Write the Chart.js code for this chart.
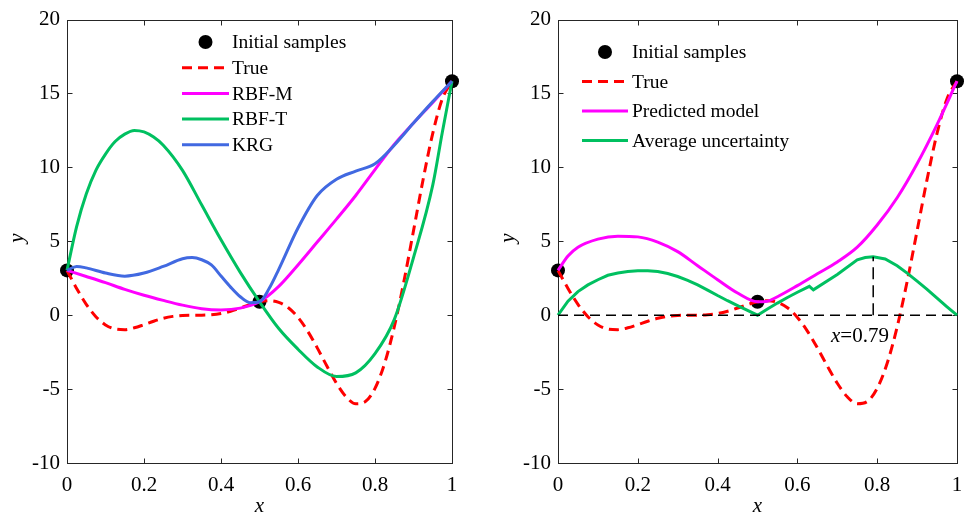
<!DOCTYPE html>
<html><head><meta charset="utf-8">
<script src="https://cdn.jsdelivr.net/npm/chart.js@4/dist/chart.umd.min.js"></script>
<style>
html,body{margin:0;padding:0;background:#fff;}
#wrap{position:relative;width:965px;height:513px;overflow:hidden;background:#fff;}
canvas{position:absolute;top:0;}
</style></head><body>
<div id="wrap">
<canvas id="c1" width="482" height="513" style="left:0"></canvas>
<canvas id="c2" width="483" height="513" style="left:482px"></canvas>
</div>
<script>
// ---------- data ----------
const xTickLabels = ['0','0.2','0.4','0.6','0.8','1'];
const yTickLabels = ['-10','-5','0','5','10','15','20'];

const sampleX = [0, 0.5, 1];
const sampleY = [3.03, 0.91, 15.83];

const trueX = [0,0.025,0.05,0.075,0.1,0.125,0.15,0.175,0.2,0.225,0.25,0.275,0.3,0.325,0.35,0.375,0.4,0.425,0.45,0.475,0.5,0.525,0.55,0.575,0.6,0.625,0.65,0.675,0.7,0.725,0.75,0.775,0.8,0.825,0.85,0.875,0.9,0.925,0.95,0.975,1];
const trueY = [3.027,1.813,0.738,-0.100,-0.657,-0.935,-0.978,-0.854,-0.640,-0.407,-0.210,-0.079,-0.016,0.000,0.002,0.030,0.115,0.270,0.483,0.717,0.909,0.986,0.871,0.503,-0.149,-1.074,-2.209,-3.439,-4.606,-5.522,-5.993,-5.845,-4.949,-3.253,-0.799,2.272,5.712,9.187,12.303,14.648,15.830];

const rbfmX = [0,0.05,0.1,0.15,0.2,0.25,0.3,0.35,0.4,0.45,0.5,0.55,0.6,0.65,0.7,0.75,0.8,0.85,0.9,0.95,1];
const rbfmY = [3.03,2.62,2.2,1.75,1.35,1.0,0.68,0.44,0.36,0.48,0.91,1.95,3.4,4.95,6.5,8.1,9.85,11.55,13.0,14.4,15.83];

const rbftX = [0,0.025,0.05,0.075,0.1,0.125,0.15,0.175,0.2,0.225,0.25,0.3,0.35,0.4,0.45,0.5,0.55,0.6,0.65,0.7,0.75,0.8,0.85,0.9,0.95,0.975,1];
const rbftY = [3.03,6.0,8.2,9.8,10.9,11.75,12.25,12.5,12.4,12.05,11.5,9.8,7.45,5.1,2.9,0.91,-0.9,-2.3,-3.5,-4.15,-3.9,-2.6,-0.3,3.9,8.8,12.4,15.83];

const krgX = [0,0.025,0.05,0.1,0.15,0.2,0.25,0.3,0.325,0.35,0.375,0.4,0.425,0.45,0.475,0.5,0.525,0.55,0.6,0.65,0.7,0.75,0.8,0.85,0.9,0.95,1];
const krgY = [3.03,3.3,3.2,2.85,2.64,2.85,3.3,3.82,3.9,3.75,3.4,2.65,1.9,1.25,0.85,0.91,1.8,3.1,5.9,8.1,9.2,9.75,10.25,11.5,13.0,14.45,15.83];

const predX = [0,0.025,0.05,0.1,0.15,0.2,0.25,0.3,0.35,0.4,0.45,0.5,0.525,0.55,0.6,0.65,0.7,0.75,0.8,0.85,0.9,0.95,1];
const predY = [3.03,4.0,4.6,5.15,5.35,5.3,4.95,4.3,3.35,2.4,1.5,0.91,0.95,1.25,2.0,2.8,3.6,4.6,6.1,7.95,10.25,12.9,15.83];

const uncX = [0,0.025,0.05,0.075,0.1,0.125,0.15,0.175,0.2,0.225,0.25,0.275,0.3,0.325,0.35,0.375,0.4,0.425,0.45,0.475,0.5,0.525,0.55,0.575,0.6,0.63,0.64,0.7,0.75,0.77,0.79,0.82,0.85,0.875,0.9,0.925,0.95,0.975,1];
const uncY = [0,0.95,1.6,2.05,2.4,2.7,2.85,2.95,3.0,3.0,2.95,2.82,2.62,2.36,2.05,1.7,1.33,0.98,0.65,0.32,0,0.42,0.82,1.2,1.55,1.95,1.72,2.75,3.75,3.9,3.95,3.8,3.35,2.85,2.3,1.75,1.15,0.57,0];

const zeroLineX = [0, 1];
const zeroLineY = [0, 0];
const markX = [0.79, 0.79];
const markY = [0, 3.95];

// ---------- helpers ----------
const FONT = "'Liberation Serif','Times New Roman',serif";
const RED = '#FF0000', MAG = '#FF00FF', GRN = '#00C060', BLU = '#4169E1';
const pts = (xs, ys) => xs.map((x, i) => ({x: x, y: ys[i]}));

function lineDs(label, xs, ys, color, order, extra) {
  return Object.assign({
    label: label, data: pts(xs, ys), borderColor: color, backgroundColor: color,
    borderWidth: 3, pointRadius: 0, fill: false, showLine: true, clip: false,
    cubicInterpolationMode: 'monotone', order: order, inLegend: true
  }, extra || {});
}
function sampleDs(order) {
  return {label: 'Initial samples', data: pts(sampleX, sampleY), showLine: false,
    pointRadius: 7, pointBackgroundColor: '#000', pointBorderColor: '#000', pointBorderWidth: 0,
    borderColor: '#000', backgroundColor: '#000', clip: false, order: order, inLegend: true, isSample: true};
}

function scalesFor(yW) {
  const tickFont = {family: FONT, size: 21};
  return {
    x: {type: 'linear', min: 0, max: 1,
      afterFit: s => { s.height = 50; s.paddingLeft = 0; s.paddingRight = 0; },
      grid: {display: false, drawTicks: false}, border: {display: false},
      ticks: {stepSize: 0.2, padding: 10, color: '#000', font: tickFont, maxRotation: 0, autoSkip: false,
        callback: v => xTickLabels[Math.round(v * 5)]}},
    y: {type: 'linear', min: -10, max: 20,
      afterFit: s => { s.width = yW; },
      grid: {display: false, drawTicks: false}, border: {display: false},
      ticks: {stepSize: 5, padding: 7, color: '#000', font: tickFont, autoSkip: false,
        callback: v => yTickLabels[Math.round((v + 10) / 5)]}}
  };
}

const decoPlugin = {
  id: 'deco',
  beforeDatasetsDraw(chart) {
    const ctx = chart.ctx, a = chart.chartArea;
    const xs = chart.scales.x, ys = chart.scales.y;
    ctx.save();
    ctx.strokeStyle = '#262626'; ctx.lineWidth = 1;
    const L = Math.round(a.left) + 0.5, R = Math.round(a.right) + 0.5, T = Math.round(a.top) + 0.5, B = Math.round(a.bottom) + 0.5;
    ctx.strokeRect(L, T, R - L, B - T);
    ctx.beginPath();
    xs.ticks.forEach(t => {
      const p = Math.round(xs.getPixelForValue(t.value)) + 0.5;
      ctx.moveTo(p, B); ctx.lineTo(p, B - 5);
      ctx.moveTo(p, T); ctx.lineTo(p, T + 5);
    });
    ys.ticks.forEach(t => {
      const p = Math.round(ys.getPixelForValue(t.value)) + 0.5;
      ctx.moveTo(L, p); ctx.lineTo(L + 5, p);
      ctx.moveTo(R, p); ctx.lineTo(R - 5, p);
    });
    ctx.stroke();
    ctx.restore();
  },
  afterDraw(chart, args, opts) {
    const ctx = chart.ctx, a = chart.chartArea;
    ctx.save();
    ctx.fillStyle = '#000';
    // axis titles
    ctx.font = 'italic 21px ' + FONT;
    ctx.textAlign = 'center'; ctx.textBaseline = 'middle';
    ctx.fillText('x', (a.left + a.right) / 2, 506);
    ctx.save();
    ctx.translate(opts.yTitleX, 238);
    ctx.rotate(-Math.PI / 2);
    ctx.fillText('y', 0, 0);
    ctx.restore();
    // legend
    const lg = opts.legend;
    ctx.font = '19.5px ' + FONT;
    ctx.textAlign = 'left'; ctx.textBaseline = 'middle';
    const items = chart.data.datasets.filter(d => d.inLegend);
    items.forEach((d, i) => {
      const y = lg.y + i * lg.dy;
      if (d.isSample) {
        ctx.beginPath(); ctx.fillStyle = '#000';
        ctx.arc((lg.x0 + lg.x1) / 2, y, 7, 0, Math.PI * 2); ctx.fill();
      } else {
        ctx.beginPath(); ctx.strokeStyle = d.borderColor; ctx.lineWidth = 3;
        ctx.setLineDash(d.borderDash || []);
        ctx.moveTo(lg.x0, y); ctx.lineTo(lg.x1, y); ctx.stroke();
        ctx.setLineDash([]);
      }
      ctx.fillStyle = '#000';
      ctx.fillText(d.label, lg.tx, y + 1);
    });
    // annotation
    if (opts.note) {
      const n = opts.note;
      ctx.textBaseline = 'alphabetic';
      ctx.font = 'italic 21px ' + FONT;
      ctx.fillText('x', n.x, n.y);
      const w = ctx.measureText('x').width;
      ctx.font = '21px ' + FONT;
      ctx.fillText('=0.79', n.x + w, n.y);
    }
    ctx.restore();
  }
};

const common = {
  responsive: false, animation: false, devicePixelRatio: 1,
  events: [],
};

new Chart(document.getElementById('c1'), {
  type: 'line',
  data: {datasets: [
    sampleDs(10),
    lineDs('True', trueX, trueY, RED, 4, {borderDash: [10, 6]}),
    lineDs('RBF-M', rbfmX, rbfmY, MAG, 3),
    lineDs('RBF-T', rbftX, rbftY, GRN, 2),
    lineDs('KRG', krgX, krgY, BLU, 1)
  ]},
  options: Object.assign({}, common, {
    layout: {padding: {left: 0, right: 30, top: 16, bottom: 0}},
    scales: scalesFor(67),
    plugins: {legend: {display: false}, tooltip: {enabled: false},
      deco: {yTitleX: 17, legend: {x0: 182, x1: 229, tx: 232, y: 42, dy: 25.7}}}
  }),
  plugins: [decoPlugin]
});

new Chart(document.getElementById('c2'), {
  type: 'line',
  data: {datasets: [
    sampleDs(10),
    lineDs('True', trueX, trueY, RED, 4, {borderDash: [10, 6]}),
    lineDs('Predicted model', predX, predY, MAG, 3),
    lineDs('Average uncertainty', uncX, uncY, GRN, 2, {cubicInterpolationMode: 'default', tension: 0}),
    lineDs('', zeroLineX, zeroLineY, '#000', 0, {borderWidth: 1.5, borderDash: [10, 6], inLegend: false, cubicInterpolationMode: 'default', tension: 0}),
    lineDs('', markX, markY, '#000', 0, {borderWidth: 1.5, borderDash: [12, 6], inLegend: false, cubicInterpolationMode: 'default', tension: 0})
  ]},
  options: Object.assign({}, common, {
    layout: {padding: {left: 0, right: 8, top: 16, bottom: 0}},
    scales: scalesFor(76),
    plugins: {legend: {display: false}, tooltip: {enabled: false},
      deco: {yTitleX: 26, legend: {x0: 100, x1: 146, tx: 150, y: 52, dy: 29.5},
             note: {x: 349, y: 342}}}
  }),
  plugins: [decoPlugin]
});
</script>
</body></html>
